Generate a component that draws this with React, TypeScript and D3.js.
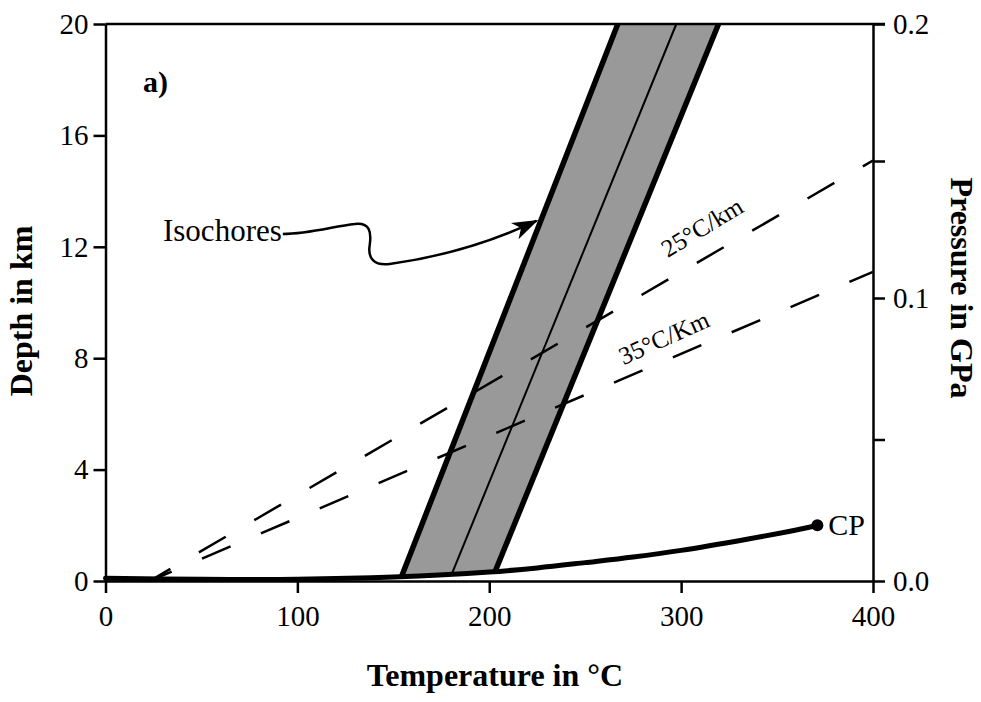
import { useEffect, useRef } from "react";
import * as d3 from "d3";

const tempTicks = [0, 100, 200, 300, 400];
const depthTicks = [0, 4, 8, 12, 16, 20];
const pressureTicks = [0, 0.05, 0.1, 0.15, 0.2];
const pressureLabels = ["0.0", "", "0.1", "", "0.2"];

// liquid-vapour curve of water, ends at the critical point
const boilingT = [0, 50, 100, 150, 200, 225, 250, 275, 300, 335, 360, 371];
const boilingDepth = [0.1, 0.06, 0.06, 0.14, 0.32, 0.47, 0.66, 0.86, 1.1, 1.51, 1.83, 2.0];

// isochores: start on the boiling curve, run up to 20 km
const isoBottomT = [154.5, 180.6, 203];
const isoBottomDepth = [0.2, 0.27, 0.33];
const isoTopT = [267, 297.5, 319.5];

// geotherms
const geoLabels = ["25°C/km", "35°C/Km"];
const geoStartT = [23, 23];
const geoEndDepth = [15.1, 11.1]; // depth reached at 400 °C
const geoLabelT = [293, 270];
const geoLabelDepth = [11.6, 7.75];

// "Isochores" pointer: start point, then cubic segments (c1, c2, end)
const arrowT = [92.4, 106.4, 119.5, 129.9, 137.7, 138.7, 137.7, 136.6, 139.8, 148.1, 174.1, 200.1, 224.6];
const arrowDepth = [12.46, 12.46, 12.75, 12.82, 12.89, 12.53, 12.06, 11.6, 11.31, 11.38, 11.63, 12.14, 12.93];

const SERIF = "'Liberation Serif', 'Times New Roman', serif";

const PhaseChart = () => {
  const svgRef = useRef<SVGSVGElement>(null);

  useEffect(() => {
    if (!svgRef.current) return;
    const svg = d3.select(svgRef.current);
    svg.selectAll("*").remove();

    const width = 981;
    const height = 702;
    svg.attr("width", width).attr("height", height).attr("viewBox", `0 0 ${width} ${height}`);

    const x = d3.scaleLinear().domain([0, 400]).range([105.5, 873]);
    const y = d3.scaleLinear().domain([0, 20]).range([581, 24]);
    const p = d3.scaleLinear().domain([0, 0.1, 0.2]).range([581, 298, 24]);

    svg.append("rect").attr("width", width).attr("height", height).attr("fill", "#fff");

    const line = d3
      .line<[number, number]>()
      .x((d) => x(d[0]))
      .y((d) => y(d[1]));

    // isochore band
    const band: [number, number][] = [
      [isoBottomT[0], isoBottomDepth[0]],
      [isoTopT[0], 20],
      [isoTopT[2], 20],
      [isoBottomT[2], isoBottomDepth[2]],
    ];
    svg
      .append("path")
      .attr("d", line(band) + "Z")
      .attr("fill", "#999999");

    // middle isochore
    svg
      .append("path")
      .attr("d", line([[isoBottomT[1], isoBottomDepth[1]], [isoTopT[1], 20]]))
      .attr("stroke", "#000")
      .attr("stroke-width", 2)
      .attr("fill", "none");

    // geotherms (dashed)
    geoLabels.forEach((label, i) => {
      const pts: [number, number][] = [
        [geoStartT[i], 0],
        [400, geoEndDepth[i]],
      ];
      svg
        .append("path")
        .attr("d", line(pts))
        .attr("stroke", "#000")
        .attr("stroke-width", 2.5)
        .attr("stroke-dasharray", "31 33")
        .attr("stroke-dashoffset", 7)
        .attr("fill", "none");

      const angle =
        (Math.atan2(y(geoEndDepth[i]) - y(0), x(400) - x(geoStartT[i])) * 180) / Math.PI;
      svg
        .append("text")
        .attr(
          "transform",
          `translate(${x(geoLabelT[i])},${y(geoLabelDepth[i])}) rotate(${angle - 1})`
        )
        .style("font-family", SERIF)
        .style("font-size", "25px")
        .text(label);
    });

    // outer isochores
    [0, 2].forEach((i) => {
      svg
        .append("path")
        .attr("d", line([[isoBottomT[i], isoBottomDepth[i]], [isoTopT[i], 20]]))
        .attr("stroke", "#000")
        .attr("stroke-width", 5.5)
        .attr("fill", "none");
    });

    // boiling curve
    const boil: [number, number][] = boilingT.map((t, i) => [t, boilingDepth[i]]);
    const smooth = d3
      .line<[number, number]>()
      .x((d) => x(d[0]))
      .y((d) => y(d[1]))
      .curve(d3.curveCatmullRom.alpha(0.5));
    svg
      .append("path")
      .attr("d", smooth(boil))
      .attr("stroke", "#000")
      .attr("stroke-width", 5)
      .attr("stroke-linecap", "round")
      .attr("fill", "none");

    const cp = boil[boil.length - 1];
    svg.append("circle").attr("cx", x(cp[0])).attr("cy", y(cp[1])).attr("r", 6).attr("fill", "#000");
    svg
      .append("text")
      .attr("x", x(cp[0]) + 11)
      .attr("y", y(cp[1]) + 10)
      .style("font-family", SERIF)
      .style("font-size", "30px")
      .text("CP");

    // axes
    const styleAxis = (g: d3.Selection<SVGGElement, unknown, null, undefined>, size: number) => {
      g.select(".domain").attr("stroke", "#000").attr("stroke-width", 2.5);
      g.selectAll(".tick line").attr("stroke", "#000").attr("stroke-width", 2.5);
      g.selectAll(".tick text")
        .style("font-family", SERIF)
        .style("font-size", `${size}px`)
        .attr("fill", "#000");
    };

    svg
      .append("g")
      .attr("transform", `translate(0,${y(0)})`)
      .call(d3.axisBottom(x).tickValues(tempTicks).tickSize(12).tickSizeOuter(0).tickPadding(12))
      .call((g) => styleAxis(g, 29));

    svg
      .append("g")
      .attr("transform", `translate(${x(0)},0)`)
      .call(d3.axisLeft(y).tickValues(depthTicks).tickSize(12).tickSizeOuter(0).tickPadding(5))
      .call((g) => styleAxis(g, 29));

    svg
      .append("g")
      .attr("transform", `translate(${x(400)},0)`)
      .call(
        d3
          .axisRight(p)
          .tickValues(pressureTicks)
          .tickFormat((_, i) => pressureLabels[i])
          .tickSize(12)
          .tickSizeOuter(0)
          .tickPadding(8)
      )
      .call((g) => styleAxis(g, 29));

    // top frame line
    svg
      .append("line")
      .attr("x1", x(0))
      .attr("x2", x(400) + 12)
      .attr("y1", y(20))
      .attr("y2", y(20))
      .attr("stroke", "#000")
      .attr("stroke-width", 2.5);

    // pointer to the isochores
    svg
      .append("defs")
      .append("marker")
      .attr("id", "arrowhead")
      .attr("viewBox", "0 0 26 20")
      .attr("refX", 24)
      .attr("refY", 10)
      .attr("markerWidth", 26)
      .attr("markerHeight", 20)
      .attr("markerUnits", "userSpaceOnUse")
      .attr("orient", "auto")
      .append("path")
      .attr("d", "M0,1 L26,10 L0,19 L7,10 Z")
      .attr("fill", "#000");

    const ap = d3.path();
    ap.moveTo(x(arrowT[0]), y(arrowDepth[0]));
    for (let i = 1; i + 2 < arrowT.length; i += 3) {
      ap.bezierCurveTo(
        x(arrowT[i]),
        y(arrowDepth[i]),
        x(arrowT[i + 1]),
        y(arrowDepth[i + 1]),
        x(arrowT[i + 2]),
        y(arrowDepth[i + 2])
      );
    }
    svg
      .append("path")
      .attr("d", ap.toString())
      .attr("stroke", "#000")
      .attr("stroke-width", 2.5)
      .attr("fill", "none")
      .attr("marker-end", "url(#arrowhead)");

    svg
      .append("text")
      .attr("x", x(arrowT[0]) - 1)
      .attr("y", y(12.22))
      .attr("text-anchor", "end")
      .style("font-family", SERIF)
      .style("font-size", "31px")
      .text("Isochores");

    // panel letter
    svg
      .append("text")
      .attr("x", 143)
      .attr("y", 92)
      .style("font-family", SERIF)
      .style("font-size", "30px")
      .style("font-weight", "bold")
      .text("a)");

    // axis titles
    svg
      .append("text")
      .attr("x", 495)
      .attr("y", 686)
      .attr("text-anchor", "middle")
      .style("font-family", SERIF)
      .style("font-size", "32px")
      .style("font-weight", "bold")
      .text("Temperature in °C");

    svg
      .append("text")
      .attr("transform", "translate(32,311) rotate(-90)")
      .attr("text-anchor", "middle")
      .style("font-family", SERIF)
      .style("font-size", "32px")
      .style("font-weight", "bold")
      .text("Depth in km");

    svg
      .append("text")
      .attr("transform", "translate(951,288) rotate(90)")
      .attr("text-anchor", "middle")
      .style("font-family", SERIF)
      .style("font-size", "32px")
      .style("font-weight", "bold")
      .text("Pressure in GPa");
  }, []);

  return (
    <div style={{ position: "absolute", left: 0, top: 0 }}>
      <svg ref={svgRef} style={{ display: "block" }} />
    </div>
  );
};

export default function App() {
  return <PhaseChart />;
}
